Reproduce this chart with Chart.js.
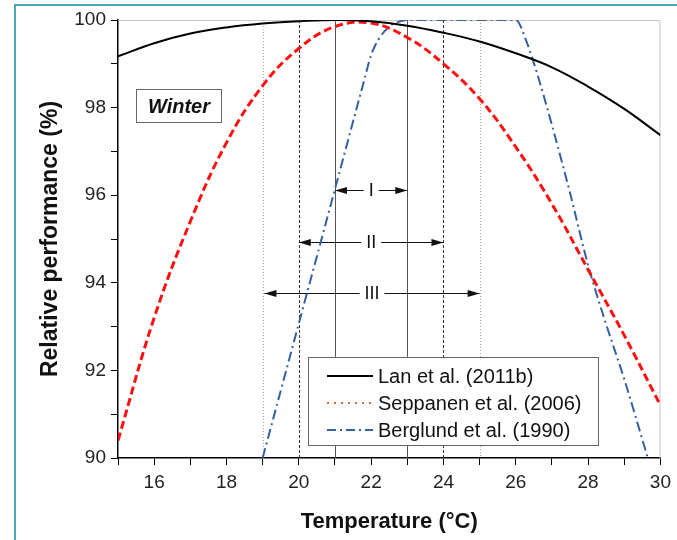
<!DOCTYPE html>
<html>
<head>
<meta charset="utf-8">
<script src="https://cdn.jsdelivr.net/npm/chart.js@4.4.1/dist/chart.umd.min.js"></script>
<style>
  body { margin: 0; background: #fff; }
  #wrap { position: relative; width: 677px; height: 540px; }
  #frame { position: absolute; left: 14px; top: 4px; right: 0; bottom: 0; border-top: 2px solid #45a9b6; border-left: 2px solid #45a9b6; pointer-events: none; }
  canvas { position: absolute; left: 0; top: 0; }
</style>
</head>
<body>
<div id="wrap">
  <canvas id="graphique" width="677" height="540"></canvas>
  <div id="frame"></div>
</div>
<script>
// temperatures (°C)
const temperatures = [15, 16, 17, 18, 19, 20, 21, 22, 23, 24, 25, 26, 27, 28, 29, 30];
const lanValues = [99.17, 99.47, 99.69, 99.83, 99.92, 99.97, 100, 99.97, 99.87, 99.71, 99.51, 99.24, 98.92, 98.48, 97.97, 97.37];
const seppanenValues = [90.4, 93.2, 95.4, 97.2, 98.5, 99.35, 99.85, 99.93, 99.6, 99.0, 98.2, 97.1, 95.8, 94.3, 92.8, 91.2];
const berglundTemps = [19, 20, 21, 21.8, 22.0, 22.2, 22.5, 22.8, 23, 26, 26.3, 26.6, 27, 27.5, 28, 28.5, 29, 29.65];
const berglundValues = [90, 93.07, 96.14, 98.6, 99.2, 99.55, 99.85, 99.97, 100, 100, 99.5, 98.75, 97.6, 96.05, 94.4, 93.05, 91.8, 90];

// plages de confort
const refLinesSolid = [21, 23];
const refLinesDashed = [20, 24];
const refLinesDotted = [19, 25];
const arrowFrom = [21, 20, 19.05];
const arrowTo = [23, 24, 25];
const arrowLevels = [96.13, 94.94, 93.76];
const arrowLabels = ["I", "II", "III"];

const legendLabels = ["Lan et al. (2011b)", "Seppanen et al. (2006)", "Berglund et al. (1990)"];

const FONT = "'Liberation Sans', Arial, sans-serif";

function fleche(ctx, x1, x2, y) {
    ctx.beginPath();
    ctx.moveTo(x1, y);
    ctx.lineTo(x2, y);
    ctx.stroke();
    [[x1, 1], [x2, -1]].forEach(([x, d]) => {
        ctx.beginPath();
        ctx.moveTo(x, y);
        ctx.lineTo(x + d * 12, y - 3.5);
        ctx.lineTo(x + d * 12, y + 3.5);
        ctx.closePath();
        ctx.fill();
    });
}

const decorPlugin = {
    id: "decor",
    beforeDatasetsDraw(chart) {
        const ctx = chart.ctx;
        const xs = chart.scales.x;
        const ys = chart.scales.y;
        const area = chart.chartArea;
        ctx.save();
        // cadre haut / droite
        ctx.strokeStyle = "#c8c8c8";
        ctx.lineWidth = 1;
        ctx.beginPath();
        ctx.moveTo(area.left, area.top + 0.5);
        ctx.lineTo(area.right - 0.5, area.top + 0.5);
        ctx.lineTo(area.right - 0.5, area.bottom);
        ctx.stroke();

        const vline = (t, color, dash) => {
            const x = Math.round(xs.getPixelForValue(t)) + 0.5;
            ctx.strokeStyle = color;
            ctx.setLineDash(dash);
            ctx.beginPath();
            ctx.moveTo(x, area.top);
            ctx.lineTo(x, area.bottom);
            ctx.stroke();
        };
        refLinesDotted.forEach(t => vline(t, "#a8a8a8", [1, 2]));
        refLinesDashed.forEach(t => vline(t, "#333", [3, 2]));
        refLinesSolid.forEach(t => vline(t, "#555", []));
        ctx.setLineDash([]);

        ctx.strokeStyle = "#111";
        ctx.fillStyle = "#111";
        ctx.lineWidth = 1.2;
        ctx.font = "18px " + FONT;
        ctx.textAlign = "center";
        ctx.textBaseline = "middle";
        arrowLabels.forEach((lab, i) => {
            const x1 = xs.getPixelForValue(arrowFrom[i]);
            const x2 = xs.getPixelForValue(arrowTo[i]);
            const y = Math.round(ys.getPixelForValue(arrowLevels[i])) + 0.5;
            fleche(ctx, x1, x2, y);
            const cx = (x1 + x2) / 2;
            const w = ctx.measureText(lab).width + 10;
            ctx.fillStyle = "#fff";
            ctx.fillRect(cx - w / 2, y - 9, w, 18);
            ctx.fillStyle = "#111";
            ctx.fillText(lab, cx, y + 1);
        });
        ctx.restore();
    },
    afterDraw(chart) {
        const ctx = chart.ctx;
        ctx.save();
        // boite Winter
        ctx.fillStyle = "#fff";
        ctx.fillRect(136, 89, 85, 33);
        ctx.strokeStyle = "#666";
        ctx.lineWidth = 1;
        ctx.strokeRect(136.5, 89.5, 85, 33);
        ctx.fillStyle = "#111";
        ctx.font = "italic bold 20px " + FONT;
        ctx.textAlign = "center";
        ctx.textBaseline = "middle";
        ctx.fillText("Winter", 179, 107);

        // légende
        ctx.fillStyle = "#fff";
        ctx.fillRect(308, 357, 290, 88);
        ctx.strokeStyle = "#666";
        ctx.strokeRect(308.5, 357.5, 290, 88);
        const rows = [376, 403, 430];
        const styles = [
            { color: "#000", dash: [], width: 2 },
            { color: "#e8603c", dash: [2, 5], width: 2 },
            { color: "#35609e", dash: [9, 4, 2, 4], width: 2 }
        ];
        ctx.textAlign = "left";
        ctx.font = "20px " + FONT;
        legendLabels.forEach((lab, i) => {
            ctx.strokeStyle = styles[i].color;
            ctx.lineWidth = styles[i].width;
            ctx.setLineDash(styles[i].dash);
            ctx.beginPath();
            ctx.moveTo(327, rows[i]);
            ctx.lineTo(373, rows[i]);
            ctx.stroke();
            ctx.setLineDash([]);
            ctx.fillStyle = "#111";
            ctx.fillText(lab, 378, rows[i] + 1);
        });
        ctx.restore();
    }
};

const ctx = document.getElementById("graphique");
new Chart(ctx, {
    type: "line",
    data: {
        labels: temperatures,
        datasets: [
            {
                label: legendLabels[0],
                data: temperatures.map((t, i) => ({ x: t, y: lanValues[i] })),
                borderColor: "#000",
                borderWidth: 2,
                tension: 0.4
            },
            {
                label: legendLabels[1],
                data: temperatures.map((t, i) => ({ x: t, y: seppanenValues[i] })),
                borderColor: "#ff1010",
                borderWidth: 3,
                borderDash: [8, 4],
                tension: 0.4
            },
            {
                label: legendLabels[2],
                data: berglundTemps.map((t, i) => ({ x: t, y: berglundValues[i] })),
                borderColor: "#35609e",
                borderWidth: 2,
                borderDash: [10, 4, 2, 4],
                cubicInterpolationMode: "monotone"
            }
        ]
    },
    options: {
        responsive: false,
        animation: false,
        layout: { padding: { left: 0, right: 15, top: 20, bottom: 0 } },
        elements: { point: { radius: 0 } },
        plugins: { legend: { display: false }, tooltip: { enabled: false } },
        scales: {
            x: {
                type: "linear",
                min: 15,
                max: 30,
                afterFit: (scale) => { scale.height = 82; },
                border: { color: "#000", width: 1.5 },
                grid: { drawOnChartArea: false, color: "#000", tickLength: 7 },
                ticks: {
                    stepSize: 1,
                    padding: 6,
                    color: "#222",
                    font: { family: FONT, size: 19 },
                    callback: (v) => (v % 2 === 0 ? v : "")
                },
                title: {
                    display: true,
                    text: "Temperature (°C)",
                    color: "#111",
                    font: { family: FONT, size: 22, weight: "bold" },
                    padding: { top: 0, bottom: 5 }
                }
            },
            y: {
                min: 90,
                max: 100,
                afterFit: (scale) => { scale.width = 118; },
                border: { color: "#000", width: 1.5 },
                grid: { drawOnChartArea: false, color: "#000", tickLength: 7 },
                ticks: {
                    stepSize: 1,
                    padding: 5,
                    color: "#222",
                    font: { family: FONT, size: 19 },
                    callback: (v) => (v % 2 === 0 ? v : "")
                },
                title: {
                    display: true,
                    text: "Relative performance (%)",
                    color: "#111",
                    font: { family: FONT, size: 23, weight: "bold" },
                    padding: { top: 37, bottom: 0 }
                }
            }
        }
    },
    plugins: [decorPlugin]
});
</script>
</body>
</html>
